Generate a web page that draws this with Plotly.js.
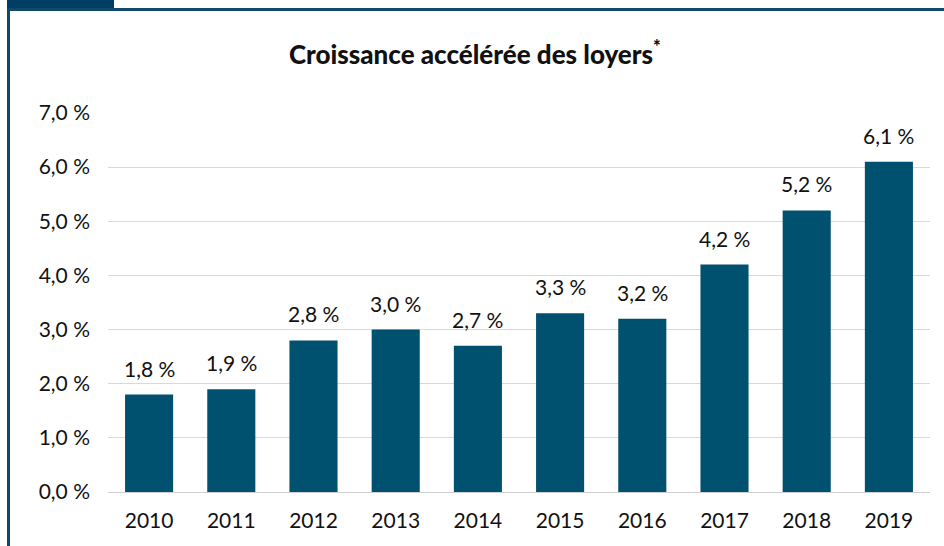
<!DOCTYPE html>
<html><head><meta charset="utf-8">
<script src="https://cdn.plot.ly/plotly-3.0.1.min.js"></script>
<style>
html,body{margin:0;padding:0;background:#fff;}
#wrap{position:relative;width:944px;height:546px;overflow:hidden;}
#chart{position:absolute;left:0;top:0;width:944px;height:546px;}
.deco{position:absolute;background:#0f4a6b;z-index:5;}
</style></head>
<body>
<div id="wrap">
<div id="chart"></div>
<div class="deco" style="left:7px;top:0;width:107px;height:11px;background:#003f63;"></div>
<div class="deco" style="left:7px;top:8px;width:937px;height:3px;"></div>
<div class="deco" style="left:7px;top:8px;width:3px;height:538px;"></div>
</div>
<script>
const years = ['2010','2011','2012','2013','2014','2015','2016','2017','2018','2019'];
const growth = [1.8, 1.9, 2.8, 3.0, 2.7, 3.3, 3.2, 4.2, 5.2, 6.1];
const yTicks = [0,1,2,3,4,5,6,7];

const font = '"Lato", "Open Sans", sans-serif';
const fmt = v => v.toFixed(1).replace('.', ',') + ' %';
const yTickText = yTicks.map(fmt);

const annotations = years.map((yr, i) => ({
  x: i, y: growth[i], xref: 'x', yref: 'y',
  text: fmt(growth[i]), showarrow: false,
  yanchor: 'bottom', yshift: 12,
  font: {family: font, size: 21, color: '#111'}
}));

Plotly.newPlot('chart', [{
  type: 'bar',
  x: years,
  y: growth,
  marker: {color: '#00506f'},
  hoverinfo: 'none'
}], {
  width: 944, height: 546,
  margin: {l: 108, r: 14, t: 113, b: 54},
  paper_bgcolor: '#fff', plot_bgcolor: '#fff',
  bargap: 0.415,
  showlegend: false,
  annotations: annotations,
  title: {text: 'Croissance accélérée des loyers<sup>*</sup>', x: 0.503, xanchor: 'center', y: 0.9, yanchor: 'middle', font: {family: font, size: 26, weight: 900, color: '#111'}},
  xaxis: {type: 'category', tickfont: {family: font, size: 21, color: '#111'}, showline: false, ticks: '', ticklabelstandoff: 14, fixedrange: true},
  yaxis: {range: [0, 7], tickvals: yTicks, ticktext: yTickText, tickfont: {family: font, size: 21, color: '#111'}, gridcolor: '#d9d9d9', gridwidth: 1, zeroline: true, zerolinecolor: '#cfcfcf', zerolinewidth: 1, showline: false, ticks: '', ticklabelstandoff: 17, fixedrange: true}
}, {displayModeBar: false, staticPlot: true});
</script>
</body></html>
